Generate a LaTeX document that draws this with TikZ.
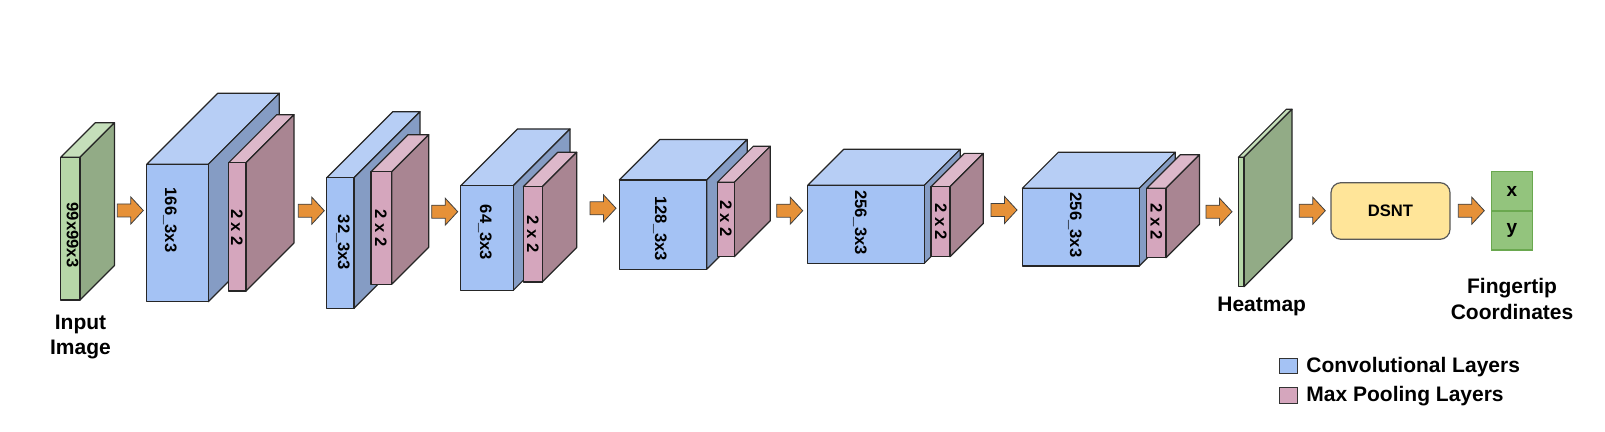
\documentclass[tikz,border=0pt]{standalone}
\usepackage{fontspec}
\setmainfont{Liberation Sans}
\definecolor{convF}{HTML}{A4C2F4}
\definecolor{convT}{HTML}{B7CEF5}
\definecolor{convS}{HTML}{859CC4}
\definecolor{poolF}{HTML}{D5A6BD}
\definecolor{poolT}{HTML}{DDB8CA}
\definecolor{poolS}{HTML}{A98592}
\definecolor{grnF}{HTML}{B6D7A8}
\definecolor{grnT}{HTML}{C5DFBA}
\definecolor{grnS}{HTML}{92AB86}
\definecolor{arrowC}{HTML}{E69138}
\definecolor{dsntC}{HTML}{FFE599}
\definecolor{xyC}{HTML}{93C47D}
\definecolor{xyB}{HTML}{6AA84F}
\tikzset{
  face/.style={draw=black!85, line width=0.6pt, line join=round},
  blockarrow/.style={draw=black!75, fill=arrowC, line width=0.4pt, line join=miter},
  biglabel/.style={inner sep=0pt, font=\fontsize{10.5}{12.6}\selectfont\bfseries},
  layerlabel/.style={inner sep=0pt, rotate=-90, font=\fontsize{8.3}{10}\selectfont\bfseries},
  dsntbox/.style={draw=black!65, line width=0.6pt, rounded corners=5pt, fill=dsntC,
    minimum width=59.5pt, minimum height=28.3pt, inner sep=0pt,
    font=\fontsize{8.3}{10}\selectfont\bfseries},
  xybox/.style={draw=xyB, line width=0.7pt, fill=xyC, minimum width=20.3pt,
    minimum height=19.6pt, inner sep=0pt, font=\fontsize{9.5}{11}\selectfont\bfseries},
  legbox/.style={draw=black!80, line width=0.6pt}
}
% #1 x1, #2 y1 (top), #3 x2, #4 y2 (bottom), #5 depth, #6 front, #7 top, #8 side
\newcommand{\mycube}[8]{%
  \filldraw[face, fill=#7] (#1,#2) -- ({#1+#5},{#2-#5}) -- ({#3+#5},{#2-#5}) -- (#3,#2) -- cycle;
  \filldraw[face, fill=#8] (#3,#2) -- ({#3+#5},{#2-#5}) -- ({#3+#5},{#4-#5}) -- (#3,#4) -- cycle;
  \filldraw[face, fill=#6] (#1,#2) rectangle (#3,#4);
}
% block arrow: left x, centre y
\newcommand{\barrow}[2]{%
  \filldraw[blockarrow] (#1,{#2-6.5}) -- ({#1+13.5},{#2-6.5}) -- ({#1+13.5},{#2-13.5})
    -- ({#1+26},#2) -- ({#1+13.5},{#2+13.5}) -- ({#1+13.5},{#2+6.5}) -- (#1,{#2+6.5}) -- cycle;
}
\begin{document}
\begin{tikzpicture}[x=0.5pt,y=-0.5pt]
\useasboundingbox (0,0) rectangle (1605,432);
\fill[white] (0,0) rectangle (1605,432);

% input
\mycube{60.7}{157.3}{80}{300}{34.5}{grnF}{grnT}{grnS}
\node[layerlabel] (inlab) at (72.5,235) {99x99x3};
\node[biglabel, anchor=base] (in1) at (80.5,330) {Input};
\node[biglabel, anchor=base] (in2) at (80.5,355) {Image};

\barrow{117.3}{210.5}

% block 1
\mycube{146.7}{164.3}{208.3}{301.7}{71}{convF}{convT}{convS}
\mycube{228.7}{162.7}{246}{291}{48}{poolF}{poolT}{poolS}
\node[layerlabel] (c1) at (170,220) {166\_3x3};
\node[layerlabel] (p1) at (237,227.5) {2 x 2};

\barrow{298.3}{210.7}

% block 2
\mycube{326.7}{177.7}{354}{308.3}{66}{convF}{convT}{convS}
\mycube{371}{171.7}{391.7}{284.3}{37}{poolF}{poolT}{poolS}
\node[layerlabel] (c2) at (343,242.5) {32\_3x3};
\node[layerlabel] (p2) at (381,228) {2 x 2};

\barrow{431.7}{211.7}

% block 3
\mycube{460.7}{185.7}{513.3}{290.3}{56.7}{convF}{convT}{convS}
\mycube{523.3}{186.7}{542.3}{282}{34.4}{poolF}{poolT}{poolS}
\node[layerlabel] (c3) at (485,232.5) {64\_3x3};
\node[layerlabel] (p3) at (533,234) {2 x 2};

\barrow{590}{208.3}

% block 4
\mycube{619.3}{180}{706.7}{269.3}{40.5}{convF}{convT}{convS}
\mycube{717.3}{182.3}{734.3}{256.7}{36}{poolF}{poolT}{poolS}
\node[layerlabel] (c4) at (660,228.7) {128\_3x3};
\node[layerlabel] (p4) at (726,218.5) {2 x 2};

\barrow{776.7}{210.7}

% block 5
\mycube{807.7}{185.3}{924.3}{263.3}{36}{convF}{convT}{convS}
\mycube{931}{186.7}{950}{256.7}{33.3}{poolF}{poolT}{poolS}
\node[layerlabel] (c5) at (860,222.5) {256\_3x3};
\node[layerlabel] (p5) at (941,221.7) {2 x 2};

\barrow{991}{210}

% block 6
\mycube{1022.3}{188.3}{1139.3}{266}{36}{convF}{convT}{convS}
\mycube{1146.7}{188.3}{1166}{257.7}{33.5}{poolF}{poolT}{poolS}
\node[layerlabel] (c6) at (1075,225) {256\_3x3};
\node[layerlabel] (p6) at (1156.5,221.7) {2 x 2};

\barrow{1206}{211.7}

% heatmap
\mycube{1238.3}{157.3}{1244}{286.7}{48}{grnF}{grnT}{grnS}
\node[biglabel, anchor=base] (heat) at (1261.7,311.7) {Heatmap};

\barrow{1299.3}{210.7}

\node[dsntbox] (dsnt) at (1390.5,211) {DSNT};

\barrow{1458.3}{210.7}

\node[xybox] (xc) at (1512,191.2) {x};
\node[xybox] (yc) at (1512,230.5) {y};
\node[biglabel, anchor=base] (fing) at (1512,294) {Fingertip};
\node[biglabel, anchor=base] (coord) at (1512,320) {Coordinates};

% legend
\filldraw[legbox, fill=convF] (1279.3,358.3) rectangle (1297.7,373.3);
\filldraw[legbox, fill=poolF] (1279.3,387.7) rectangle (1297.7,403.3);
\node[biglabel, anchor=base west] (legc) at (1306,372.7) {Convolutional Layers};
\node[biglabel, anchor=base west] (legp) at (1306,401.7) {Max Pooling Layers};
\end{tikzpicture}
\end{document}
